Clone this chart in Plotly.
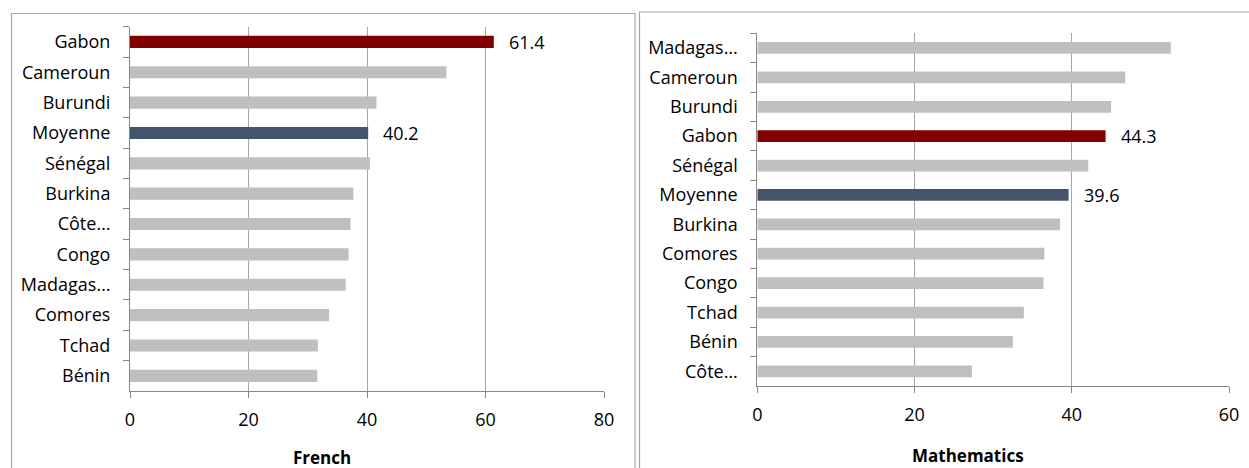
import plotly.graph_objects as go
from plotly.subplots import make_subplots

W, H = 1249, 468

# French scores, top to bottom
fr_countries = ["Gabon", "Cameroun", "Burundi", "Moyenne", "Sénégal", "Burkina",
                "Côte…", "Congo", "Madagas…", "Comores", "Tchad", "Bénin"]
fr_scores = [61.4, 53.4, 41.6, 40.2, 40.5, 37.7, 37.2, 36.9, 36.4, 33.6, 31.7, 31.6]

# Mathematics scores, top to bottom
ma_countries = ["Madagas…", "Cameroun", "Burundi", "Gabon", "Sénégal", "Moyenne",
                "Burkina", "Comores", "Congo", "Tchad", "Bénin", "Côte…"]
ma_scores = [52.6, 46.8, 45.0, 44.3, 42.1, 39.6, 38.5, 36.5, 36.4, 33.9, 32.5, 27.3]

highlight = {"Gabon": "#800000", "Moyenne": "#44546A"}
GREY = "#BFBFBF"
FONT = "Open Sans"


def px_x(p):
    return p / W


def px_y(p):
    return 1 - p / H


fig = make_subplots(rows=1, cols=2)

annotations = []
for col, (cats, vals) in enumerate([(fr_countries, fr_scores), (ma_countries, ma_scores)], start=1):
    colors = [highlight.get(c, GREY) for c in cats]
    fig.add_trace(go.Bar(x=vals, y=cats, orientation="h", marker_color=colors,
                         marker_line_width=0, showlegend=False), row=1, col=col)
    xref = "x" if col == 1 else "x2"
    yref = "y" if col == 1 else "y2"
    for c, v in zip(cats, vals):
        if c in highlight:
            annotations.append(dict(x=v, y=c, xref=xref, yref=yref, text=f"{v:.1f}",
                                    showarrow=False, xanchor="left", xshift=13,
                                    font=dict(family=FONT, size=18, color="#000000")))

# axis titles
annotations.append(dict(x=px_x(322), y=px_y(457), xref="paper", yref="paper", text="<b>French</b>",
                        xanchor="center", yanchor="middle", showarrow=False,
                        font=dict(family=FONT, size=17, color="#000000")))
annotations.append(dict(x=px_x(968), y=px_y(455), xref="paper", yref="paper", text="<b>Mathematics</b>",
                        xanchor="center", yanchor="middle", showarrow=False,
                        font=dict(family=FONT, size=17, color="#000000")))

xcommon = dict(showgrid=True, gridcolor="#A6A6A6", gridwidth=1, zeroline=False,
               showline=True, linecolor="#868686", linewidth=1, ticks="outside",
               ticklen=6, tickcolor="#868686", dtick=20, automargin=False,
               ticklabelstandoff=6,
               tickfont=dict(family=FONT, size=18, color="#000000"))
ycommon = dict(autorange="reversed", showline=True, linecolor="#868686", linewidth=1,
               ticks="outside", ticklen=6, tickcolor="#868686", tickson="boundaries",
               showgrid=False, ticklabelstandoff=15, automargin=False,
               tickfont=dict(family=FONT, size=18, color="#000000"))

fig.update_layout(
    width=W, height=H,
    margin=dict(l=0, r=0, t=0, b=0),
    paper_bgcolor="white", plot_bgcolor="white",
    bargap=0.6,
    xaxis=dict(domain=[px_x(130), px_x(604)], range=[0, 80], **xcommon),
    xaxis2=dict(domain=[px_x(757.3), px_x(1229)], range=[0, 60], **xcommon),
    yaxis=dict(domain=[px_y(391), px_y(26.7)], **ycommon),
    yaxis2=dict(domain=[px_y(386), px_y(33.3)], **ycommon),
    annotations=annotations,
    shapes=[
        dict(type="rect", xref="paper", yref="paper", x0=px_x(11.5), x1=px_x(635),
             y0=-0.05, y1=px_y(13.5), line=dict(color="#A6A6A6", width=1.2)),
        dict(type="rect", xref="paper", yref="paper", x0=px_x(639.5), x1=1.05,
             y0=-0.05, y1=px_y(12), line=dict(color="#A6A6A6", width=1.2)),
    ],
)

# the page body has a default 8px margin; drop it so the figure sits at the corner
fig.write_html("out.html", config={"displayModeBar": False},
               post_script="document.body.style.margin='0px';document.body.style.overflow='hidden';")
